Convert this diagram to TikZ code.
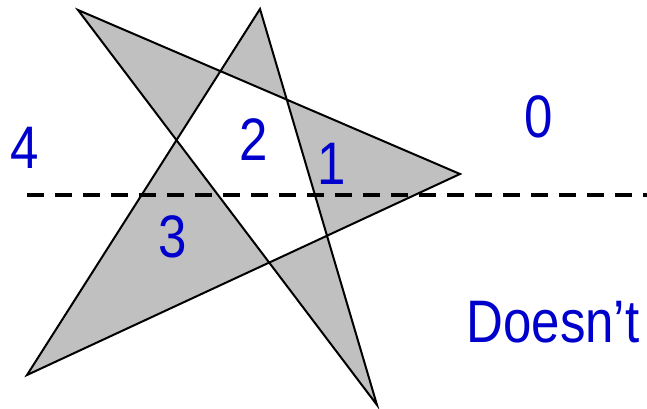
\documentclass[tikz,border=0pt]{standalone}
\usepackage{fontspec}
\newfontfamily\labelfont[FakeStretch=0.85]{Liberation Sans}
\definecolor{numblue}{HTML}{0000CC}
\definecolor{fillgray}{HTML}{C0C0C0}
\usetikzlibrary{calc}

\begin{document}
\begin{tikzpicture}[x=1pt, y=-1pt,
    winding/.style={text=numblue, font=\labelfont\fontsize{60}{60}\selectfont,
                    inner sep=0pt, anchor=base}]
      \useasboundingbox (0,0) rectangle (647,409);
      % Star corners
      \coordinate (topleft)  at (78,10);
      \coordinate (top)      at (260,9);
      \coordinate (right)    at (460,174);
      \coordinate (botleft)  at (27,375);
      \coordinate (bottom)   at (377,405);

      % Star, filled with the even-odd rule
      \filldraw[fill=fillgray, draw=black, line width=2pt, even odd rule, line join=miter]
        (topleft) -- (right) -- (botleft) -- (top) -- (bottom) -- cycle;

      % Test ray
      \coordinate (rayA) at (27,195);
      \coordinate (rayB) at (660,195);
      \draw[line width=3.5pt, dash pattern=on 17pt off 11pt] (rayA) -- (rayB);

      % Winding numbers
      \node[winding] (w4) at (25,168) {4};
      \node[winding] (w2) at (254,160) {2};
      \node[winding] (w1) at (332,184) {1};
      \node[winding] (w0) at (539,137) {0};
      \node[winding] (w3) at (173,257) {3};
      \node[winding] (doesnt) at (553,342) {Doesn’t};
    \end{tikzpicture}
\end{document}
